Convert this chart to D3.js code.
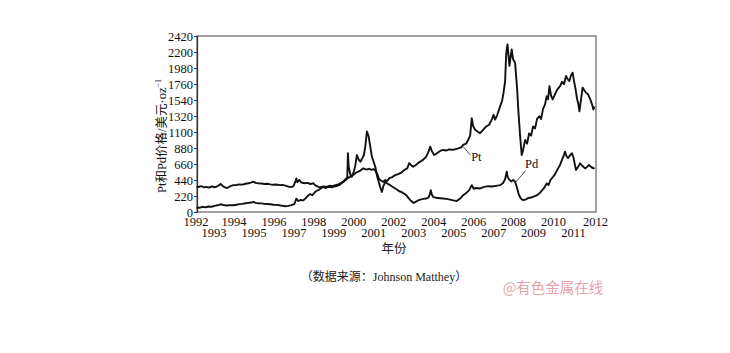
<!DOCTYPE html>
<html><head><meta charset="utf-8">
<script src="https://cdn.jsdelivr.net/npm/d3@7"></script>
<style>
html,body{margin:0;padding:0;background:#fff;}
svg{display:block;}
</style>
</head><body>
<svg id="chart" width="730" height="353"></svg>
<script>
const yTicks = [0,220,440,660,880,1100,1320,1540,1760,1980,2200,2420];
const xTicks = [1992,1993,1994,1995,1996,1997,1998,1999,2000,2001,2002,2003,2004,2005,2006,2007,2008,2009,2010,2011,2012];

const ptYears = [1992.00,1992.10,1992.20,1992.30,1992.40,1992.50,1992.60,1992.70,1992.80,1992.90,
1993.00,1993.10,1993.20,1993.30,1993.40,1993.50,1993.60,1993.70,1993.85,
1994.00,1994.15,1994.30,1994.45,1994.60,1994.72,1994.85,1994.95,
1995.10,1995.25,1995.40,1995.55,1995.70,1995.85,
1996.00,1996.15,1996.30,1996.45,1996.60,1996.70,1996.85,1996.95,
1997.00,1997.05,1997.15,1997.25,1997.40,1997.55,1997.70,1997.85,1997.95,
1998.10,1998.20,1998.35,1998.50,1998.65,1998.80,1998.95,
1999.10,1999.25,1999.35,1999.50,1999.60,1999.70,1999.80,1999.90,
2000.00,2000.10,2000.20,2000.35,2000.45,2000.55,2000.65,2000.75,2000.85,2000.95,
2001.05,2001.15,2001.25,2001.35,2001.45,2001.55,2001.65,2001.80,2001.95,
2002.10,2002.25,2002.40,2002.55,2002.65,2002.75,2002.85,
2003.00,2003.10,2003.20,2003.35,2003.50,2003.60,2003.70,2003.78,2003.90,
2004.05,2004.20,2004.35,2004.50,2004.65,2004.80,2004.95,
2005.10,2005.25,2005.35,2005.50,2005.60,2005.70,2005.78,2005.85,2005.95,
2006.10,2006.20,2006.35,2006.50,2006.65,2006.80,2006.87,2006.95,
2007.05,2007.20,2007.30,2007.37,2007.45,2007.50,2007.53,2007.57,2007.62,2007.67,2007.72,2007.78,2007.85,2007.95,
2008.05,2008.12,2008.20,2008.28,2008.35,2008.45,2008.55,2008.65,2008.75,2008.85,2008.95,
2009.05,2009.17,2009.25,2009.35,2009.45,2009.53,2009.60,2009.67,2009.75,2009.83,2009.95,
2010.05,2010.20,2010.30,2010.40,2010.50,2010.60,2010.67,2010.75,2010.83,2010.90,2010.97,
2011.05,2011.10,2011.17,2011.25,2011.33,2011.40,2011.50,2011.60,2011.70,2011.80,2011.87,2011.92];
const ptPrices = [350,342,356,348,338,345,335,344,352,340,
348,365,385,360,342,330,340,355,370,
372,380,376,388,395,405,418,400,
395,392,385,388,380,375,
378,370,372,362,350,342,352,420,
462,410,440,405,395,400,385,395,365,
345,340,352,345,360,355,368,
380,400,418,445,470,486,500,520,
545,555,570,600,590,585,595,578,590,570,
520,450,430,415,440,425,466,480,508,
520,540,577,600,673,640,622,
650,675,692,720,760,820,898,840,784,
810,840,853,845,860,855,862,
875,890,922,940,991,1050,1291,1180,1131,
1100,1084,1130,1176,1200,1280,1338,1269,
1330,1452,1530,1637,1800,2150,2236,2305,2150,2009,2120,2236,2100,2052,
1700,1365,1050,784,850,991,940,1080,1050,1176,1150,
1280,1317,1280,1420,1480,1593,1550,1731,1600,1548,1620,
1680,1731,1790,1760,1870,1820,1800,1880,1916,1800,1700,
1560,1503,1383,1550,1710,1680,1640,1618,1560,1480,1410,1450];

const pdYears = [1992.00,1992.15,1992.30,1992.45,1992.60,1992.75,1992.90,
1993.05,1993.20,1993.35,1993.50,1993.65,1993.85,
1994.00,1994.15,1994.30,1994.45,1994.60,1994.75,1994.85,1994.95,
1995.10,1995.25,1995.40,1995.55,1995.70,1995.85,
1996.00,1996.15,1996.30,1996.45,1996.60,1996.75,1996.90,
1997.00,1997.08,1997.20,1997.35,1997.50,1997.60,1997.70,1997.80,1997.90,
1998.00,1998.10,1998.25,1998.35,1998.45,1998.60,1998.75,1998.90,
1999.05,1999.20,1999.35,1999.45,1999.55,1999.58,1999.62,1999.70,1999.78,1999.88,1999.95,
2000.03,2000.12,2000.20,2000.30,2000.38,2000.45,2000.53,2000.57,2000.62,2000.70,2000.78,2000.88,2000.95,
2001.05,2001.12,2001.20,2001.28,2001.36,2001.45,2001.55,2001.70,2001.85,
2002.03,2002.15,2002.25,2002.40,2002.50,2002.65,2002.75,2002.87,2002.97,
2003.10,2003.20,2003.35,2003.50,2003.62,2003.70,2003.73,2003.78,2003.85,
2004.00,2004.20,2004.35,2004.50,2004.70,2004.85,
2005.03,2005.20,2005.35,2005.50,2005.65,2005.78,2005.88,
2006.00,2006.20,2006.40,2006.60,2006.80,
2007.00,2007.20,2007.35,2007.45,2007.53,2007.58,2007.65,2007.75,2007.85,2007.95,
2008.05,2008.12,2008.20,2008.30,2008.37,2008.50,2008.60,2008.75,2008.85,
2009.00,2009.17,2009.30,2009.40,2009.53,2009.62,2009.72,2009.85,2009.95,
2010.10,2010.20,2010.30,2010.40,2010.45,2010.52,2010.60,2010.70,2010.80,2010.88,2010.95,
2011.00,2011.08,2011.20,2011.30,2011.45,2011.55,2011.65,2011.75,2011.87,2011.92];
const pdPrices = [62,58,70,66,75,72,85,
92,106,96,90,95,93,
100,108,112,120,125,130,140,125,
120,118,112,110,106,100,
98,92,85,80,84,95,110,
185,150,165,160,200,230,245,230,265,
290,300,330,346,330,345,340,350,
360,380,415,450,480,808,622,520,484,560,640,
784,720,692,740,784,900,1106,1080,1037,900,760,680,622,
480,415,340,276,360,415,390,369,340,
310,285,276,250,231,180,150,124,140,
160,171,180,185,200,260,300,240,207,
195,190,185,180,170,160,
152,185,231,260,300,369,320,
330,324,345,355,350,
360,369,400,450,553,480,450,420,440,415,
330,254,200,170,162,175,190,200,207,
225,254,300,330,393,370,440,484,520,
600,646,720,790,830,770,738,780,808,740,640,
577,610,669,640,600,620,646,620,600,610];

const seriesLabels = ["Pt","Pd"];
const yTitle = "Pt和Pd价格/美元·oz";
const xTitle = "年份";
const caption = "（数据来源：Johnson Matthey）";
const watermark = "@有色金属在线";

const svg = d3.select("#chart");
const mLeft = 197, mRight = 596, mTop = 36, mBottom = 212;
const x = d3.scaleLinear().domain([1992, 2012]).range([mLeft - 0.5, mRight]);
const y = d3.scaleLinear().domain([0, 2420]).range([mBottom, mTop]);

const serif = "'Liberation Serif','Times New Roman','Noto Sans CJK SC',serif";

// frame
svg.append("rect").attr("x", mLeft).attr("y", mTop).attr("width", mRight - mLeft).attr("height", mBottom - mTop)
  .attr("fill", "none").attr("stroke", "#8a8a8a").attr("stroke-width", 1.6);

// y axis
const yAxis = d3.axisLeft(y).tickValues(yTicks).tickSize(3).tickPadding(1).tickFormat(d3.format("d"));
const gy = svg.append("g").attr("transform", `translate(${mLeft},0)`).call(yAxis);
gy.select(".domain").attr("stroke", "#333").attr("stroke-width", 1.2);
gy.selectAll(".tick line").attr("stroke", "#333");
gy.selectAll("text").attr("font-family", serif).attr("font-size", 12.5).attr("fill", "#111");

// x axis labels (two rows)
const xAxis = d3.axisBottom(x).tickValues(xTicks).tickSize(0).tickFormat(d3.format("d"));
const gx = svg.append("g").attr("transform", `translate(0,${mBottom})`).call(xAxis);
gx.select(".domain").remove();
gx.selectAll("text").attr("font-family", serif).attr("font-size", 12.5).attr("fill", "#111")
  .attr("dx", d => (d === 1992 || d === 2012) ? -1 : -3)
  .attr("dy", null)
  .attr("y", d => d % 2 === 0 ? 13.5 : 24.5);

// lines
const line = d3.line().x(d => x(d[0])).y(d => y(d[1])).curve(d3.curveLinear);
const ptData = ptYears.map((t, i) => [t, ptPrices[i]]);
const pdData = pdYears.map((t, i) => [t, pdPrices[i]]);
[ptData, pdData].forEach(data => {
  svg.append("path").datum(data).attr("d", line).attr("fill", "none")
    .attr("stroke", "#111").attr("stroke-width", 1.9).attr("stroke-linejoin", "round");
});

// series annotations with leader lines
const ann = [
  {name: seriesLabels[0], from: [2005.35, 900], to: [2005.72, 780], tx: 2005.75, ty: 700},
  {name: seriesLabels[1], from: [2007.95, 400], to: [2008.48, 570], tx: 2008.45, ty: 610}
];
ann.forEach(a => {
  svg.append("line").attr("x1", x(a.from[0])).attr("y1", y(a.from[1]))
    .attr("x2", x(a.to[0])).attr("y2", y(a.to[1])).attr("stroke", "#222").attr("stroke-width", 0.8);
  svg.append("text").attr("x", x(a.tx)).attr("y", y(a.ty)).attr("font-family", serif)
    .attr("font-size", 12.5).attr("fill", "#111").text(a.name);
});

// y title
const yt = svg.append("text").attr("transform", "translate(166,136) rotate(-90)")
  .attr("text-anchor", "middle").attr("font-family", serif).attr("font-size", 12.5).attr("fill", "#111");
yt.append("tspan").text(yTitle);
yt.append("tspan").attr("dy", -5).attr("font-size", 8).text("−1");

// x title
svg.append("text").attr("x", 394).attr("y", 253).attr("text-anchor", "middle")
  .attr("font-family", "'Noto Sans CJK SC',sans-serif").attr("font-size", 12.5).attr("fill", "#222").text(xTitle);

// caption
svg.append("text").attr("x", 384).attr("y", 281).attr("text-anchor", "middle")
  .attr("font-family", "'Liberation Serif','Noto Sans CJK SC',serif").attr("font-size", 12).attr("fill", "#222").text(caption);

// watermark
svg.append("text").attr("x", 553).attr("y", 293).attr("text-anchor", "middle")
  .attr("font-family", "'Noto Sans CJK SC',sans-serif").attr("font-size", 14.5).attr("fill", "#e8a3aa").text(watermark);
</script>
</body></html>
